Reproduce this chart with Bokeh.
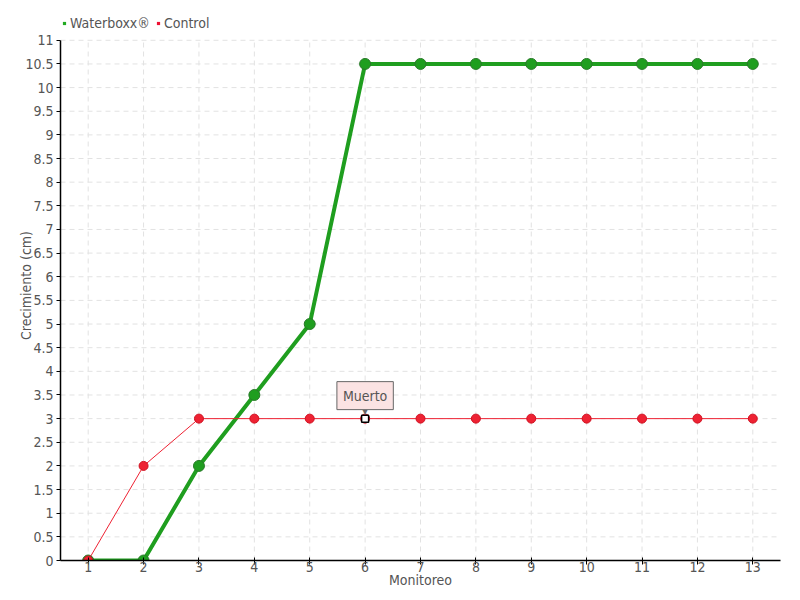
from bokeh.plotting import figure
from bokeh.models import Legend, LegendItem, FixedTicker, Range1d
from bokeh.core.properties import value
from bokeh.embed import file_html
from bokeh.resources import INLINE

monitoreo = [1, 2, 3, 4, 5, 6, 7, 8, 9, 10, 11, 12, 13]
waterboxx = [0, 0, 2, 3.5, 5, 10.5, 10.5, 10.5, 10.5, 10.5, 10.5, 10.5, 10.5]
control = [0, 2, 3, 3, 3, 3, 3, 3, 3, 3, 3, 3, 3]
y_ticks = [i * 0.5 for i in range(23)]
y_tick_labels = ["0", "0.5", "1", "1.5", "2", "2.5", "3", "3.5", "4", "4.5", "5", "5.5",
                 "6", "6.5", "7", "7.5", "8", "8.5", "9", "9.5", "10", "10.5", "11"]
x_lo, x_hi = 0.5, 13.5
y_min, y_max = 0, 11
note_index = 5
note_text = "Muerto"
x_title = "Monitoreo"
y_title = "Crecimiento (cm)"

FONT = "'DejaVu Sans Condensed', Roboto"
TXT = "#555555"
GRID = "#e2e2e2"

p = figure(width=784, height=590, output_backend="svg", toolbar_location=None,
           x_range=Range1d(x_lo, x_hi), y_range=Range1d(y_min, 11.63),
           min_border_left=60, min_border_right=4, min_border_top=10, min_border_bottom=30)
p.outline_line_color = None

green = "#1f9e1f"
red = "#ee2233"

# grid lines limited to the value area
p.segment(x0=monitoreo, y0=[y_min] * len(monitoreo), x1=monitoreo, y1=[y_max] * len(monitoreo),
          line_color=GRID, line_dash="5 4", line_width=1)
p.segment(x0=[x_lo] * len(y_ticks), y0=y_ticks, x1=[x_hi] * len(y_ticks), y1=y_ticks,
          line_color=GRID, line_dash="5 4", line_width=1)

lg = p.line(monitoreo, waterboxx, line_color=green, line_width=4)
sg = p.scatter(monitoreo, waterboxx, size=11, fill_color=green, line_color="#2a7a2a", line_width=1)
lr = p.line(monitoreo, control, line_color=red, line_width=1)
sr = p.scatter(monitoreo, control, size=9, fill_color=red, line_color="#d01020", line_width=1)
nan = float("nan")
lsg = p.scatter([nan], [nan], marker="square", size=7, fill_color="#22aa22", line_color=None)
lsr = p.scatter([nan], [nan], marker="square", size=7, fill_color="#ee1133", line_color=None)

# annotation
p.scatter([monitoreo[note_index]], [control[note_index]], marker="square", size=7,
          fill_color="white", line_color="black", line_width=1.5)
p.text([monitoreo[note_index]], [control[note_index]], text=[note_text],
       text_font=value(FONT), text_font_size="14px", text_color=TXT,
       anchor="bottom_center", y_offset=-9,
       padding=6, background_fill_color="#fbe3e3", border_line_color="#666666", border_line_width=1)
p.text([monitoreo[note_index]], [control[note_index]], text=["\u25BE"],
       text_font=value("DejaVu Sans"), text_font_size="10px", text_color="#666666",
       anchor="bottom_center", y_offset=-2)

# axes
p.xaxis.ticker = FixedTicker(ticks=monitoreo)
p.yaxis.ticker = FixedTicker(ticks=y_ticks)
p.yaxis.bounds = (y_min, y_max)
p.yaxis.major_label_overrides = {t: l for t, l in zip(y_ticks, y_tick_labels)}
for ax in (p.xaxis[0], p.yaxis[0]):
    ax.axis_line_color = "black"
    ax.axis_line_width = 1.5
    ax.major_tick_line_color = "black"
    ax.major_tick_in = 0
    ax.major_tick_out = 4
    ax.minor_tick_line_color = None
    ax.major_label_text_font = FONT
    ax.major_label_text_font_size = "14px"
    ax.major_label_text_color = TXT
    ax.axis_label_text_font = FONT
    ax.axis_label_text_font_size = "14px"
    ax.axis_label_text_color = TXT
    ax.axis_label_text_font_style = "normal"
p.xaxis.major_tick_in = 3
p.xaxis.major_label_standoff = -3
p.xaxis.axis_label = x_title
p.xaxis.axis_label_standoff = -3
p.yaxis.axis_label = y_title
p.yaxis.axis_label_standoff = -12
p.yaxis.major_label_standoff = 3

p.xgrid.visible = False
p.ygrid.visible = False

legend = Legend(items=[LegendItem(label="Waterboxx\u00AE", renderers=[lsg]),
                       LegendItem(label="Control", renderers=[lsr])],
                orientation="horizontal", location=(0, 529), border_line_color=None,
                background_fill_alpha=0, label_text_font=FONT, label_text_font_size="14px",
                label_text_color=TXT, glyph_width=8, glyph_height=8, label_standoff=2,
                spacing=4, padding=1, margin=0)
p.add_layout(legend, "center")

open("out.html", "w").write(file_html(p, INLINE))
